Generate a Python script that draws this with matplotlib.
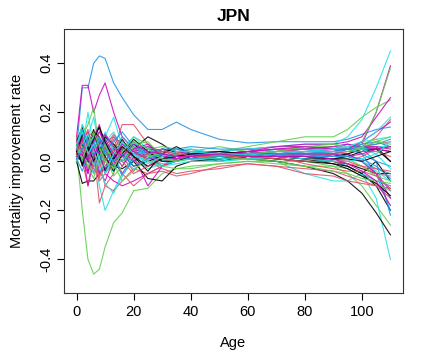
import matplotlib
matplotlib.use('Agg')
import matplotlib.pyplot as plt

plt.rcParams['font.family'] = ['Liberation Sans', 'DejaVu Sans']

ages = [0, 2, 4, 6, 8, 10, 13, 16, 20, 25, 30, 35, 40, 50, 60, 70, 80, 90, 95, 100, 105, 110]

# R (4.x) default palette, cycled like matplot does
palette = ['#000000', '#DF536B', '#61D04F', '#2297E6', '#28E2E5', '#CD0BBC']

rates = [
    [0.05, 0.12, 0.02, 0.10, 0.14, 0.05, -0.02, 0.04, 0.08, 0.02, -0.02, 0.01, 0.03, 0.02, 0.02, 0.01, 0.0, 0.0, -0.02, -0.05, -0.10, -0.20],
    [0.05, 0.10, -0.05, 0.08, 0.12, 0.10, 0.05, 0.15, 0.15, 0.07, 0.03, 0.05, 0.04, 0.03, 0.02, 0.02, 0.02, 0.03, 0.05, 0.06, 0.10, 0.17],
    [0.05, -0.20, -0.40, -0.46, -0.44, -0.35, -0.25, -0.21, -0.12, -0.11, -0.05, -0.03, -0.03, -0.01, 0.0, 0.0, 0.0, -0.02, -0.05, -0.10, -0.18, -0.26],
    [0.05, 0.30, 0.30, 0.40, 0.43, 0.42, 0.32, 0.26, 0.19, 0.13, 0.13, 0.16, 0.13, 0.09, 0.075, 0.08, 0.08, 0.08, 0.09, 0.11, 0.13, 0.14],
    [0.0, 0.05, 0.20, 0.05, -0.10, -0.20, -0.12, -0.05, 0.0, 0.02, 0.02, 0.03, 0.02, 0.01, 0.02, 0.0, -0.05, -0.08, -0.08, -0.05, -0.15, -0.40],
    [0.10, 0.31, 0.31, 0.20, 0.27, 0.32, 0.20, 0.10, 0.05, 0.03, 0.02, 0.04, 0.04, 0.04, 0.05, 0.06, 0.06, 0.05, 0.05, 0.07, 0.20, 0.39],
    [0.0, -0.09, -0.08, -0.08, -0.05, -0.03, 0.0, 0.02, 0.03, 0.05, 0.04, 0.03, 0.02, 0.02, 0.01, 0.0, -0.02, -0.05, -0.08, -0.13, -0.21, -0.30],
    [0.10, 0.0, -0.10, 0.05, -0.17, -0.10, -0.05, 0.08, 0.05, 0.0, -0.03, -0.05, -0.04, -0.03, -0.01, -0.02, -0.05, -0.06, -0.08, -0.09, -0.10, -0.11],
    [0.05, 0.10, 0.15, 0.22, 0.05, 0.0, 0.05, 0.03, 0.0, 0.03, 0.04, 0.02, 0.03, 0.04, 0.06, 0.08, 0.10, 0.10, 0.13, 0.18, 0.22, 0.25],
    [0.03, 0.08, 0.02, -0.05, 0.05, 0.10, 0.05, 0.02, 0.05, 0.03, 0.05, 0.04, 0.05, 0.03, 0.03, 0.04, 0.05, 0.06, 0.07, 0.05, 0.0, -0.22],
    [0.05, 0.0, 0.10, 0.18, 0.05, 0.10, 0.18, 0.06, 0.03, 0.02, 0.01, 0.02, 0.03, 0.04, 0.05, 0.06, 0.07, 0.07, 0.10, 0.17, 0.30, 0.45],
    [0.0, 0.05, -0.10, 0.0, 0.05, -0.05, -0.08, -0.10, -0.08, -0.05, -0.02, 0.0, 0.02, 0.03, 0.04, 0.06, 0.07, 0.07, 0.08, 0.10, 0.18, 0.26],
    [0.08, 0.14, 0.05, 0.12, 0.10, 0.0, 0.05, 0.0, 0.05, 0.10, 0.07, 0.03, 0.02, 0.0, 0.02, 0.03, 0.04, 0.04, 0.05, 0.05, 0.06, 0.0],
    [0.0, 0.05, 0.05, -0.05, 0.0, -0.10, -0.12, -0.08, -0.03, -0.05, -0.04, -0.06, -0.05, -0.02, -0.01, -0.02, -0.03, -0.04, -0.06, -0.08, -0.10, -0.15],
    [0.03, 0.15, 0.10, 0.0, 0.08, 0.05, -0.03, 0.05, 0.10, 0.07, 0.03, 0.0, 0.02, 0.01, 0.03, 0.04, 0.06, 0.06, 0.05, 0.08, 0.20, 0.38],
    [0.0, 0.05, 0.10, 0.02, -0.05, 0.0, 0.05, 0.10, 0.05, 0.03, 0.0, 0.02, 0.01, 0.02, 0.04, 0.03, 0.04, 0.05, 0.07, 0.03, -0.05, -0.20],
    [0.05, 0.08, 0.0, -0.05, 0.02, 0.08, 0.12, 0.05, 0.02, -0.03, -0.01, 0.0, 0.01, 0.0, 0.01, 0.02, 0.03, 0.02, 0.02, 0.0, -0.05, -0.15],
    [0.05, 0.0, -0.05, 0.10, 0.15, 0.05, 0.0, -0.05, 0.02, -0.10, -0.02, 0.02, 0.03, 0.04, 0.03, 0.02, 0.03, 0.02, 0.03, 0.0, -0.05, -0.15],
    [0.03, 0.06, 0.10, 0.03, 0.0, 0.05, -0.02, -0.03, 0.0, -0.07, -0.08, -0.02, 0.0, 0.01, 0.02, 0.02, 0.01, 0.0, -0.01, -0.03, -0.05, -0.05],
    [0.05, 0.10, 0.0, 0.05, 0.0, 0.05, 0.03, -0.05, -0.10, -0.05, -0.02, 0.01, 0.02, 0.03, 0.03, 0.01, 0.0, 0.0, 0.0, 0.02, 0.05, 0.06],
    [0.0, 0.05, 0.07, 0.10, 0.05, 0.02, 0.07, 0.05, 0.03, 0.05, 0.06, 0.05, 0.04, 0.06, 0.04, 0.03, 0.02, 0.03, 0.03, 0.05, 0.08, 0.10],
    [0.02, 0.10, 0.05, 0.07, 0.10, 0.03, 0.06, 0.04, 0.05, 0.06, 0.04, 0.05, 0.06, 0.05, 0.05, 0.04, 0.04, 0.03, 0.02, 0.0, -0.03, -0.05],
    [0.0, 0.03, 0.05, 0.08, 0.02, 0.0, 0.03, 0.07, 0.05, 0.02, 0.03, 0.04, 0.03, 0.02, 0.03, 0.02, 0.02, 0.04, 0.06, 0.08, 0.09, 0.10],
    [0.03, 0.08, 0.12, 0.05, 0.0, -0.03, 0.04, 0.06, 0.03, 0.02, 0.04, 0.03, 0.02, 0.03, 0.03, 0.04, 0.05, 0.04, 0.03, 0.0, -0.05, -0.12],
    [0.02, 0.0, 0.05, 0.02, 0.08, 0.06, 0.02, 0.04, 0.07, 0.03, 0.05, 0.04, 0.03, 0.03, 0.04, 0.03, 0.03, 0.02, 0.03, 0.05, 0.05, 0.04],
    [0.08, 0.05, 0.10, 0.12, 0.08, 0.04, 0.10, 0.05, 0.02, 0.04, 0.02, 0.03, 0.04, 0.04, 0.03, 0.04, 0.05, 0.05, 0.06, 0.06, 0.07, 0.08],
    [0.04, 0.0, -0.03, 0.0, 0.03, 0.02, 0.06, 0.08, 0.04, 0.0, -0.02, -0.03, -0.02, -0.01, 0.0, -0.01, -0.02, -0.02, -0.03, -0.06, -0.09, -0.12],
    [0.05, 0.02, 0.0, 0.04, 0.05, 0.08, 0.10, 0.07, 0.03, 0.05, 0.03, 0.02, 0.04, 0.04, 0.02, 0.03, 0.02, 0.0, -0.02, -0.05, -0.08, -0.10],
    [0.0, 0.12, 0.07, 0.10, 0.05, 0.06, 0.02, 0.04, 0.10, 0.05, 0.03, 0.05, 0.05, 0.03, 0.03, 0.05, 0.05, 0.05, 0.04, 0.05, 0.06, 0.06],
    [0.02, 0.04, 0.06, 0.0, -0.05, -0.02, 0.03, 0.0, 0.04, 0.06, 0.04, 0.03, 0.02, 0.02, 0.02, 0.03, 0.04, 0.04, 0.05, 0.06, 0.06, 0.05],
    [0.04, 0.07, 0.0, -0.02, 0.04, 0.10, 0.07, 0.03, -0.02, 0.0, 0.02, 0.03, 0.02, 0.01, 0.02, 0.01, 0.0, -0.01, -0.02, -0.05, 0.0, -0.08],
    [0.02, 0.04, 0.08, 0.0, -0.08, -0.05, 0.0, 0.04, 0.0, -0.02, 0.0, 0.01, 0.02, 0.02, 0.01, 0.02, 0.02, 0.01, 0.0, -0.02, -0.05, -0.06],
    [0.06, 0.03, 0.05, 0.08, 0.02, 0.05, 0.02, 0.0, 0.06, 0.03, 0.02, 0.03, 0.02, 0.03, 0.02, 0.03, 0.03, 0.02, 0.01, -0.02, -0.06, -0.08],
    [0.01, 0.06, 0.03, 0.08, 0.0, 0.05, -0.02, 0.02, 0.0, 0.04, 0.02, 0.01, 0.02, 0.02, 0.03, 0.02, 0.03, 0.04, 0.05, 0.03, 0.0, -0.02],
    [0.03, 0.0, 0.04, 0.02, 0.06, -0.02, -0.04, 0.01, -0.03, 0.0, -0.02, -0.01, 0.0, 0.0, 0.01, 0.02, 0.03, 0.03, 0.02, 0.0, -0.04, -0.08],
    [0.06, 0.10, 0.04, 0.08, 0.12, 0.07, 0.02, 0.05, 0.0, 0.04, 0.03, 0.02, 0.03, 0.03, 0.04, 0.05, 0.05, 0.06, 0.07, 0.06, 0.05, 0.04],
    [0.07, -0.02, 0.06, 0.13, 0.03, -0.04, 0.02, 0.09, 0.02, -0.04, 0.03, 0.06, 0.03, 0.01, 0.02, 0.02, 0.01, 0.01, 0.02, 0.04, 0.05, 0.0],
    [0.02, 0.08, 0.13, 0.02, -0.07, 0.03, 0.09, 0.02, -0.04, 0.03, 0.05, 0.02, 0.01, 0.02, 0.03, 0.02, -0.01, -0.03, -0.04, -0.04, -0.06, -0.11],
    [0.09, 0.04, -0.03, 0.05, 0.09, 0.02, -0.06, -0.02, 0.07, 0.08, 0.02, 0.0, 0.03, 0.03, 0.03, 0.04, 0.06, 0.07, 0.06, 0.07, 0.09, 0.05],
    [0.01, -0.04, 0.03, 0.07, 0.0, 0.08, 0.02, -0.06, 0.01, 0.05, 0.02, 0.02, 0.03, 0.02, 0.02, 0.03, 0.03, 0.03, 0.05, 0.07, 0.08, 0.06],
    [0.06, 0.15, 0.08, -0.02, 0.05, 0.12, 0.04, 0.0, 0.08, 0.02, 0.0, 0.03, 0.04, 0.02, 0.03, 0.04, 0.04, 0.05, 0.06, 0.05, 0.03, -0.03],
    [0.04, 0.09, 0.01, 0.06, -0.04, -0.08, 0.01, 0.07, 0.04, 0.01, 0.01, 0.04, 0.03, 0.03, 0.04, 0.05, 0.06, 0.05, 0.05, 0.08, 0.12, 0.16],
    [0.03, 0.11, 0.06, 0.0, 0.06, 0.02, -0.04, 0.03, 0.09, 0.04, 0.0, 0.0, 0.02, 0.02, 0.02, 0.02, 0.01, -0.01, -0.03, -0.06, -0.09, -0.14],
    [0.08, 0.02, 0.09, 0.04, -0.02, 0.06, 0.11, 0.06, 0.01, 0.03, 0.04, 0.03, 0.02, 0.02, 0.03, 0.03, 0.02, 0.03, 0.04, 0.04, 0.04, 0.02],
    [0.0, 0.06, -0.02, -0.07, 0.02, 0.07, -0.01, -0.08, -0.04, 0.02, 0.03, 0.02, 0.02, 0.01, 0.01, 0.0, -0.02, -0.04, -0.05, -0.07, -0.08, -0.09],
    [0.05, 0.13, 0.07, 0.02, 0.09, 0.04, 0.08, 0.12, 0.06, 0.03, 0.05, 0.05, 0.04, 0.03, 0.03, 0.04, 0.04, 0.05, 0.05, 0.06, 0.07, 0.09],
    [0.02, 0.07, 0.11, 0.04, -0.02, -0.09, -0.13, -0.06, 0.03, 0.0, -0.01, 0.0, 0.01, 0.01, 0.02, 0.03, 0.04, 0.05, 0.06, 0.08, 0.12, 0.18],
    [0.09, 0.04, 0.0, 0.07, 0.03, 0.09, 0.03, -0.02, 0.05, 0.07, 0.02, 0.01, 0.02, 0.03, 0.04, 0.03, 0.03, 0.03, 0.02, 0.03, 0.05, 0.06],
    [0.04, -0.01, 0.04, 0.09, 0.14, 0.08, 0.01, 0.06, 0.02, -0.02, 0.01, 0.02, 0.03, 0.04, 0.03, 0.02, 0.02, 0.01, 0.01, 0.0, 0.02, 0.04],
    [0.03, 0.08, 0.04, -0.03, -0.06, 0.0, 0.05, 0.0, -0.05, -0.02, 0.02, 0.04, 0.02, 0.02, 0.02, 0.01, 0.0, 0.0, -0.01, -0.02, -0.03, -0.04],
    [0.06, 0.01, 0.07, 0.12, 0.06, 0.0, -0.03, 0.04, 0.08, 0.05, 0.01, 0.0, 0.01, 0.02, 0.03, 0.04, 0.04, 0.04, 0.04, 0.06, 0.08, 0.07],
    [0.01, 0.05, 0.09, 0.05, 0.10, 0.03, 0.0, 0.03, -0.02, 0.01, 0.03, 0.02, 0.01, 0.02, 0.03, 0.03, 0.02, 0.02, 0.02, 0.01, -0.02, -0.07],
    [0.07, 0.12, 0.03, 0.07, 0.01, -0.05, 0.03, 0.08, 0.03, -0.01, 0.02, 0.04, 0.04, 0.03, 0.03, 0.02, 0.01, 0.0, 0.0, 0.01, 0.03, 0.08],
    [0.02, 0.03, -0.04, 0.02, 0.07, 0.11, 0.06, 0.02, 0.07, 0.04, 0.03, 0.02, 0.02, 0.03, 0.02, 0.02, 0.02, 0.01, -0.01, -0.04, -0.08, -0.18],
]

xticks = [0, 20, 40, 60, 80, 100]
yticks = [-0.4, -0.2, 0.0, 0.2, 0.4]

fig = plt.figure(figsize=(4.23, 3.53), dpi=100)
ax = fig.add_axes([0.1513, 0.170, 0.8014, 0.748])

for i, r in enumerate(rates):
    ax.plot(ages, r, color=palette[i % len(palette)], lw=0.8, alpha=0.9)

ax.set_xlim(-4.4, 114.4)
ax.set_ylim(-0.537, 0.54)
ax.set_xticks(xticks)
ax.set_yticks(yticks)
ax.set_yticklabels(['%.1f' % v for v in yticks], rotation=90, va='center')
ax.tick_params(direction='out', length=5, width=0.8, labelsize=10.5, pad=4)
ax.tick_params(axis='y', pad=3)
for s in ax.spines.values():
    s.set_linewidth(0.8)
    s.set_color('#333333')

ax.set_title('JPN', fontweight='bold', fontsize=12.5, pad=6)
ax.set_xlabel('Age', fontsize=10.5, va='center')
ax.set_ylabel('Mortality improvement rate', fontsize=10.5, va='center')
ax.xaxis.set_label_coords(0.5, -0.189)
ax.yaxis.set_label_coords(-0.139, 0.5)

fig.savefig('out.png', dpi=100)
